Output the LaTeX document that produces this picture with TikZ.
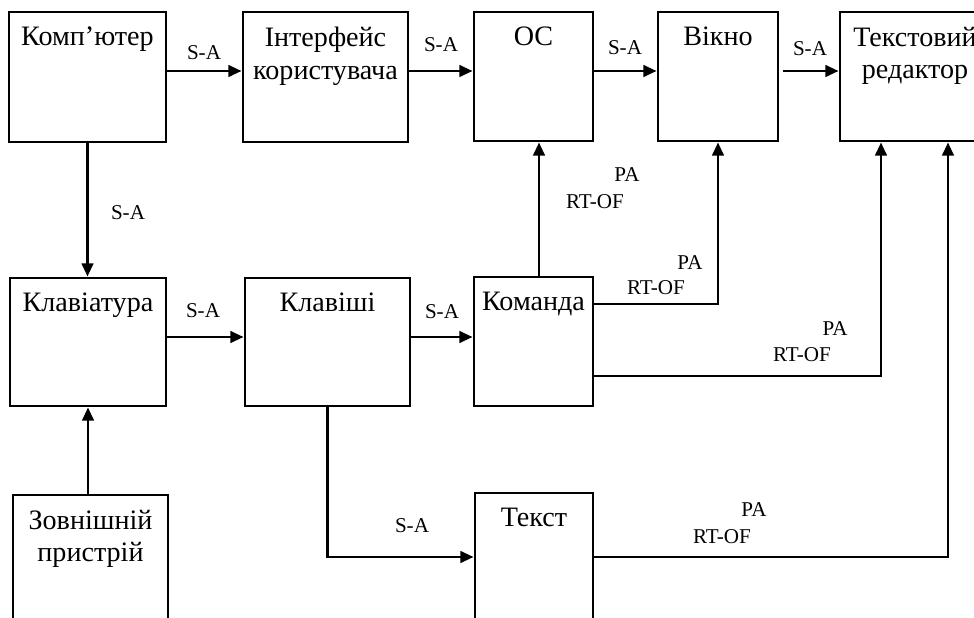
\documentclass[tikz,border=0pt]{standalone}
\usepackage{fontspec}
\setmainfont{Liberation Serif}
\usetikzlibrary{arrows.meta, fit, calc}

\begin{document}
\begin{tikzpicture}[x=0.02cm, y=-0.02cm,
  blok/.style={draw, line width=1.6pt, inner sep=0pt},
  nazva/.style={anchor=north, yshift=-9pt, inner sep=0pt, align=center,
    font=\fontsize{16}{18.7}\selectfont},
  zv/.style={font=\fontsize{12}{14}\selectfont, inner sep=0pt},
  strl/.style={line width=1.6pt, -{Triangle[length=7.5pt, width=6.5pt]}}]
\useasboundingbox (0,0) rectangle (974,618);
\clip (0,0) rectangle (974,618);

% boxes
\node[blok, fit={(9,12) (166,142)}, label={[nazva]north:Комп’ютер}] (komp) {};
\node[blok, fit={(243,12) (408,142)}, label={[nazva]north:Інтерфейс\\користувача}] (inter) {};
\node[blok, fit={(474,12) (593,141)}, label={[nazva]north:ОС}] (os) {};
\node[blok, fit={(658,12) (778,141)}, label={[nazva]north:Вікно}] (vikno) {};
\node[blok, fit={(840,12) (990,141)}, label={[nazva]north:Текстовий\\редактор}] (redaktor) {};
\node[blok, fit={(10,278) (166,406)}, label={[nazva]north:Клавіатура}] (klav) {};
\node[blok, fit={(245,278) (410,406)}, label={[nazva]north:Клавіші}] (klavishi) {};
\node[blok, fit={(474,277) (593,406)}, label={[nazva]north:Команда}] (komanda) {};
\node[blok, fit={(13,495) (168,650)}, label={[nazva]north:Зовнішній\\пристрій}] (zovn) {};
\node[blok, fit={(475,493) (593,621)}, label={[nazva]north:Текст}] (tekst) {};

\coordinate (r1) at (0,71);
\coordinate (r2) at (0,337);
\coordinate (k1) at (539,0);
\coordinate (k2) at (0,304);
\coordinate (k3) at (881,376);
\coordinate (k4) at (948,0);

% S-A links
\draw[strl] (komp.east |- r1) -- (inter.west |- r1);
\draw[strl] (inter.east |- r1) -- (os.west |- r1);
\draw[strl] (os.east |- r1) -- (vikno.west |- r1);
\draw[strl] ($(vikno.east |- r1)+(4,0)$) -- (redaktor.west |- r1);
\draw[strl] (komp.south) -- (komp.south |- klav.north);
\draw[strl] (klav.east |- r2) -- (klavishi.west |- r2);
\draw[strl] (klavishi.east |- r2) -- (komanda.west |- r2);
\draw[strl] (zovn.north -| klav.south) -- (klav.south);
\draw[strl] (klavishi.south) |- (tekst.west);

% PA / RT-OF links
\draw[strl] (komanda.north -| k1) -- (os.south -| k1);
\draw[strl] (komanda.east |- k2) -| (vikno.south);
\draw[strl] (komanda.east |- k3) -| (redaktor.south -| k3);
\draw[strl] (tekst.east) -| (redaktor.south -| k4);

\node[zv] (s1) at (204,53) {S-A};
\node[zv] (s2) at (441,45) {S-A};
\node[zv] (s3) at (625,48) {S-A};
\node[zv] (s4) at (810,49) {S-A};
\node[zv] (s5) at (128,213) {S-A};
\node[zv] (s6) at (203,311) {S-A};
\node[zv] (s7) at (442,312) {S-A};
\node[zv] (s8) at (412,526) {S-A};

\node[zv] (p1) at (627,175) {PA};
\node[zv] (o1) at (595,202) {RT-OF};
\node[zv] (p2) at (690,263) {PA};
\node[zv] (o2) at (656,288) {RT-OF};
\node[zv] (p3) at (835,329) {PA};
\node[zv] (o3) at (802,355) {RT-OF};
\node[zv] (p4) at (754,510) {PA};
\node[zv] (o4) at (722,537) {RT-OF};
\end{tikzpicture}
\end{document}
